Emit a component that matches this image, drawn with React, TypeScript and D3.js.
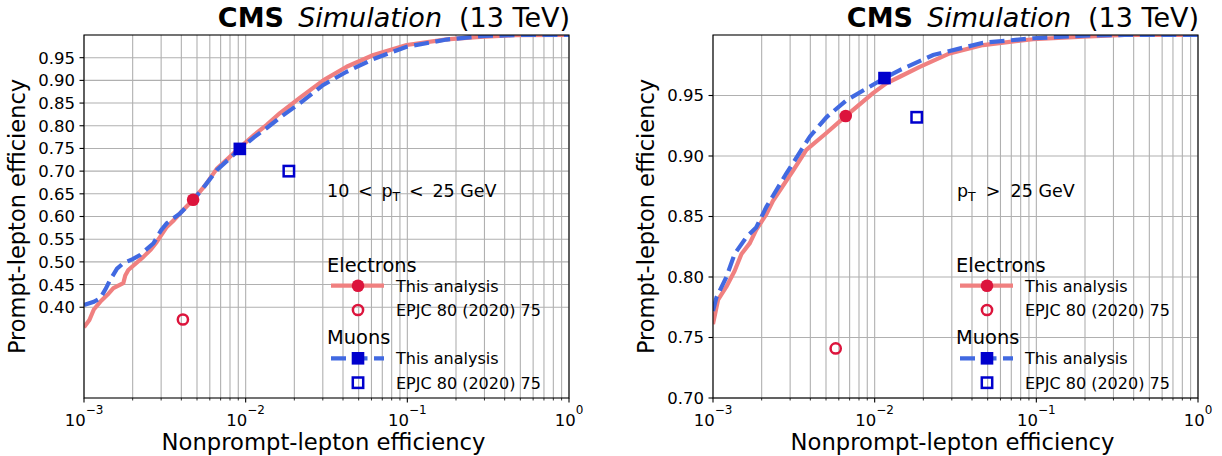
import { line, scaleLinear, scaleLog } from 'd3'

type Pt = [number, number]

// x axis: decades of the nonprompt efficiency
const xDecades = [-3, -2, -1, 0]
const leftYTicks = [0.4, 0.45, 0.5, 0.55, 0.6, 0.65, 0.7, 0.75, 0.8, 0.85, 0.9, 0.95]
const rightYTicks = [0.7, 0.75, 0.8, 0.85, 0.9, 0.95]

// 10 < pT < 25 GeV
const lowPtElectronCurve: Pt[] = [
	[1e-3, 0.356], [1.08e-3, 0.372], [1.15e-3, 0.395], [1.26e-3, 0.412], [1.4e-3, 0.428], [1.52e-3, 0.442],
	[1.75e-3, 0.453], [1.8e-3, 0.47], [1.88e-3, 0.482], [2.1e-3, 0.497], [2.33e-3, 0.511], [2.6e-3, 0.528],
	[2.82e-3, 0.544], [3.25e-3, 0.577], [3.6e-3, 0.592], [3.93e-3, 0.607], [4.73e-3, 0.637], [5.6e-3, 0.668],
	[6.62e-3, 0.705], [7.8e-3, 0.728], [9.2e-3, 0.752], [0.0113, 0.78], [0.0135, 0.802], [0.0163, 0.828],
	[0.0217, 0.862], [0.0302, 0.9], [0.0421, 0.93], [0.0617, 0.956], [0.099, 0.978], [0.175, 0.9905],
	[0.282, 0.996], [0.45, 0.9995], [1, 1.0],
]
const lowPtMuonCurve: Pt[] = [
	[1e-3, 0.405], [1.15e-3, 0.412], [1.26e-3, 0.42], [1.36e-3, 0.44], [1.45e-3, 0.46], [1.6e-3, 0.485],
	[1.75e-3, 0.497], [2.0e-3, 0.506], [2.22e-3, 0.515], [2.69e-3, 0.541], [3.0e-3, 0.57], [3.25e-3, 0.585],
	[3.93e-3, 0.607], [4.73e-3, 0.636], [5.6e-3, 0.668], [6.62e-3, 0.702], [7.8e-3, 0.725], [9.2e-3, 0.749],
	[0.0113, 0.775], [0.0135, 0.795], [0.0163, 0.818], [0.0217, 0.85], [0.0302, 0.89], [0.0421, 0.919],
	[0.0617, 0.947], [0.099, 0.974], [0.175, 0.99], [0.3, 0.998], [0.5, 1.0], [1, 1.0],
]
const lowPtElectronPoint: Pt = [4.73e-3, 0.637]
const lowPtElectronRef: Pt = [4.09e-3, 0.373]
const lowPtMuonPoint: Pt = [9.2e-3, 0.749]
const lowPtMuonRef: Pt = [0.0185, 0.7]

// pT > 25 GeV
const highPtElectronCurve: Pt[] = [
	[1e-3, 0.761], [1.04e-3, 0.772], [1.074e-3, 0.781], [1.21e-3, 0.792], [1.36e-3, 0.805], [1.5e-3, 0.819],
	[1.69e-3, 0.828], [1.85e-3, 0.839], [2.14e-3, 0.852], [2.35e-3, 0.863], [3.13e-3, 0.888], [3.78e-3, 0.905],
	[5.03e-3, 0.919], [6.62e-3, 0.933], [9.77e-3, 0.952], [0.0118, 0.96], [0.0143, 0.9655], [0.019, 0.9737],
	[0.0291, 0.9848], [0.0468, 0.9917], [0.0955, 0.9965], [0.195, 0.9987], [0.35, 1.0], [1, 1.0],
]
const highPtMuonCurve: Pt[] = [
	[1e-3, 0.772], [1.05e-3, 0.783], [1.21e-3, 0.8], [1.36e-3, 0.819], [1.61e-3, 0.833], [1.85e-3, 0.841],
	[2.14e-3, 0.858], [2.84e-3, 0.8855], [3.52e-3, 0.905], [3.97e-3, 0.916], [5.03e-3, 0.932], [6.68e-3, 0.946],
	[0.0115, 0.9644], [0.0143, 0.971], [0.023, 0.9834], [0.0468, 0.9936], [0.0955, 0.9973], [0.2, 0.9995],
	[0.35, 1.0], [1, 1.0],
]
const highPtElectronPoint: Pt = [6.62e-3, 0.933]
const highPtElectronRef: Pt = [5.74e-3, 0.741]
const highPtMuonPoint: Pt = [0.0115, 0.9644]
const highPtMuonRef: Pt = [0.0182, 0.932]

const FONT = '"DejaVu Sans", sans-serif'
const RED_LINE = '#f08080'
const RED_MARK = '#dc143c'
const BLUE_LINE = '#4169e1'
const BLUE_MARK = '#0000cd'
const GRID = '#b0b0b0'
const DASH = '15,6.5'

interface PanelProps {
	left: number
	yDomain: [number, number]
	yTicks: number[]
	electronCurve: Pt[]
	muonCurve: Pt[]
	electronPoint: Pt
	electronRef: Pt
	muonPoint: Pt
	muonRef: Pt
	ptLabel: 'low' | 'high'
	id: string
}

function Panel({ left, yDomain, yTicks, electronCurve, muonCurve, electronPoint, electronRef, muonPoint, muonRef, ptLabel, id }: PanelProps) {
	const top = 35
	const width = 485
	const height = 363
	const x = scaleLog().domain([1e-3, 1]).range([0, width])
	const y = scaleLinear().domain(yDomain).range([height, 0])
	const path = line<Pt>()
		.x((d) => x(d[0]))
		.y((d) => y(d[1]))

	const minor = xDecades.slice(0, -1).flatMap((e) => [2, 3, 4, 5, 6, 7, 8, 9].map((m) => m * Math.pow(10, e)))
	const majors = xDecades.map((e) => Math.pow(10, e))

	// legend anchor, relative to the plot
	const lx = 243
	const hx0 = 247
	const hx1 = 300
	const mx = 274
	const tx = 312

	return (
		<g transform={`translate(${left}, ${top})`} fontFamily={FONT}>
			<defs>
				<clipPath id={id}>
					<rect x={0} y={0} width={width} height={height} />
				</clipPath>
			</defs>

			{/* grid */}
			{minor.concat(majors).map((v) => (
				<line key={`gx${v}`} x1={x(v)} x2={x(v)} y1={0} y2={height} stroke={GRID} strokeWidth={1.1} />
			))}
			{yTicks.map((t) => (
				<line key={`gy${t}`} x1={0} x2={width} y1={y(t)} y2={y(t)} stroke={GRID} strokeWidth={1.1} />
			))}

			{/* curves */}
			<g clipPath={`url(#${id})`}>
				<path d={path(electronCurve) ?? ''} fill="none" stroke={RED_LINE} strokeWidth={4.2} strokeLinejoin="round" />
				<path d={path(muonCurve) ?? ''} fill="none" stroke={BLUE_LINE} strokeWidth={4.2} strokeDasharray={DASH} />
			</g>

			{/* working points */}
			<circle cx={x(electronPoint[0])} cy={y(electronPoint[1])} r={6.3} fill={RED_MARK} />
			<circle cx={x(electronRef[0])} cy={y(electronRef[1])} r={5.1} fill="none" stroke={RED_MARK} strokeWidth={2.5} />
			<rect x={x(muonPoint[0]) - 6.3} y={y(muonPoint[1]) - 6.3} width={12.6} height={12.6} fill={BLUE_MARK} />
			<rect x={x(muonRef[0]) - 5.2} y={y(muonRef[1]) - 5.2} width={10.4} height={10.4} fill="none" stroke={BLUE_MARK} strokeWidth={2.5} />

			{/* frame */}
			<rect x={0} y={0} width={width} height={height} fill="none" stroke="#000" strokeWidth={1.1} />

			{/* x ticks */}
			{minor.map((v) => (
				<line key={`mx${v}`} x1={x(v)} x2={x(v)} y1={height} y2={height + 2.5} stroke="#000" strokeWidth={0.8} />
			))}
			{xDecades.map((e) => (
				<g key={`tx${e}`}>
					<line x1={x(Math.pow(10, e))} x2={x(Math.pow(10, e))} y1={height} y2={height + 4.5} stroke="#000" strokeWidth={1.1} />
					<text x={x(Math.pow(10, e))} y={height + 28} textAnchor="middle" fontSize={16.5} fill="#000">
						<tspan>10</tspan>
						<tspan dy={-12} fontSize={12}>{e === 0 ? '0' : `\u2212${-e}`}</tspan>
					</text>
				</g>
			))}

			{/* y ticks */}
			{yTicks.map((t) => (
				<g key={`ty${t}`}>
					<line x1={-4.5} x2={0} y1={y(t)} y2={y(t)} stroke="#000" strokeWidth={1.1} />
					<text x={-9} y={y(t)} dy="0.36em" textAnchor="end" fontSize={16.5} fill="#000">
						{t.toFixed(2)}
					</text>
				</g>
			))}

			{/* axis labels */}
			<text x={width / 2 - 3} y={height + 52} textAnchor="middle" fontSize={22.7} fill="#000">
				Nonprompt-lepton efficiency
			</text>
			<text transform={`translate(-59.5, ${height / 2}) rotate(-90)`} textAnchor="middle" fontSize={22.5} fill="#000">
				Prompt-lepton efficiency
			</text>

			{/* title, right-aligned to the frame */}
			<g fontSize={27} fill="#000">
				<text x={width + 1} y={-8} textAnchor="end">(13 TeV)</text>
				<text x={width - 127} y={-8} textAnchor="end" fontStyle="italic">Simulation</text>
				<text x={width - 285} y={-8} textAnchor="end" fontWeight="bold">CMS</text>
			</g>

			{/* pT range */}
			{ptLabel === 'low' ? (
				<text x={243} y={162} fontSize={17.5} fill="#000">
					<tspan wordSpacing={3.2}>{'10 < p'}</tspan>
					<tspan dy={4} fontSize={12.5}>T</tspan>
					<tspan dy={-4} wordSpacing={3.2}>{' < 25'}</tspan>
					<tspan>{' GeV'}</tspan>
				</text>
			) : (
				<text x={244} y={162} fontSize={17.5} fill="#000">
					<tspan>p</tspan>
					<tspan dy={4} fontSize={12.5}>T</tspan>
					<tspan dy={-4} wordSpacing={4.5}>{' > 25'}</tspan>
					<tspan>{' GeV'}</tspan>
				</text>
			)}

			{/* legend */}
			<g fontSize={16} fill="#000">
				<text x={lx} y={237} fontSize={19.4}>Electrons</text>
				<line x1={hx0} x2={hx1} y1={250.7} y2={250.7} stroke={RED_LINE} strokeWidth={4.2} />
				<circle cx={mx} cy={250.7} r={6.3} fill={RED_MARK} />
				<text x={tx} y={257}>This analysis</text>
				<circle cx={mx} cy={275} r={5.1} fill="none" stroke={RED_MARK} strokeWidth={2.5} />
				<text x={tx} y={280.5}>EPJC 80 (2020) 75</text>

				<text x={lx} y={309} fontSize={19.4}>Muons</text>
				<line x1={hx0} x2={hx1} y1={323.3} y2={323.3} stroke={BLUE_LINE} strokeWidth={4.2} strokeDasharray={DASH} />
				<rect x={mx - 6.3} y={323.3 - 6.3} width={12.6} height={12.6} fill={BLUE_MARK} />
				<text x={tx} y={328.5}>This analysis</text>
				<rect x={mx - 5.2} y={347.7 - 5.2} width={10.4} height={10.4} fill="none" stroke={BLUE_MARK} strokeWidth={2.5} />
				<text x={tx} y={353.5}>EPJC 80 (2020) 75</text>
			</g>
		</g>
	)
}

export default function App() {
	return (
		<div style={{ position: 'absolute', left: 0, top: 0 }}>
			<svg width={1222} height={456} viewBox="0 0 1222 456" style={{ display: 'block', background: '#fff' }}>
				<Panel
					id="clip-low"
					left={84}
					yDomain={[0.2, 1.0]}
					yTicks={leftYTicks}
					electronCurve={lowPtElectronCurve}
					muonCurve={lowPtMuonCurve}
					electronPoint={lowPtElectronPoint}
					electronRef={lowPtElectronRef}
					muonPoint={lowPtMuonPoint}
					muonRef={lowPtMuonRef}
					ptLabel="low"
				/>
				<Panel
					id="clip-high"
					left={713}
					yDomain={[0.7, 1.0]}
					yTicks={rightYTicks}
					electronCurve={highPtElectronCurve}
					muonCurve={highPtMuonCurve}
					electronPoint={highPtElectronPoint}
					electronRef={highPtElectronRef}
					muonPoint={highPtMuonPoint}
					muonRef={highPtMuonRef}
					ptLabel="high"
				/>
			</svg>
		</div>
	)
}
